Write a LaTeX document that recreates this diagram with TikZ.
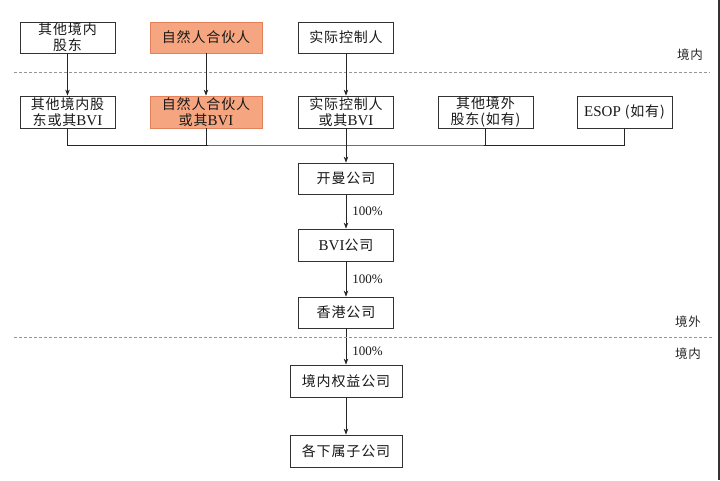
\documentclass[tikz,border=0pt]{standalone}
\usepackage{fontspec}
\setmainfont{Liberation Serif}
\newfontfamily\cjk[LetterSpace=6]{Noto Sans CJK SC}
\usetikzlibrary{arrows.meta}
\newcommand\latn[1]{{\rmfamily\fontsize{15}{16}\selectfont #1}}
\definecolor{orangefill}{RGB}{245,166,128}
\definecolor{orangeline}{RGB}{226,130,90}
\definecolor{boxline}{RGB}{50,50,50}
\definecolor{dashgray}{RGB}{150,150,150}
\tikzset{
  box/.style={draw=boxline, line width=0.8pt, minimum width=95pt, minimum height=31pt,
    inner sep=0pt, align=center, text=black!90, font=\fontsize{14}{16}\selectfont\cjk},
  widebox/.style={box, minimum width=112pt},
  hot/.style={fill=orangefill, draw=orangeline},
  conn/.style={line width=0.7pt, draw=black!85},
  arr/.style={conn, -{Stealth[length=6pt,width=4.5pt]}},
  sep/.style={dashgray, line width=0.6pt, dash pattern=on 3pt off 2pt},
  zone/.style={font=\fontsize{12.5}{14}\selectfont\cjk, text=black!85, inner sep=0pt},
  pct/.style={font=\fontsize{13}{14}\selectfont\rmfamily, text=black!90, inner sep=0pt, anchor=west}
}
\begin{document}
\begin{tikzpicture}[x=1pt,y=-1pt]
\useasboundingbox (0,0) rectangle (720,480);
\fill[white] (0,0) rectangle (720,480);
% row 1
\node[box] (A1) at (67.5,37.5) {其他境内\\股东};
\node[widebox,hot] (A2) at (206,37.5) {自然人合伙人};
\node[box] (A3) at (346,37.5) {实际控制人};
% separators and zone labels
\coordinate (s1l) at (14,72); \coordinate (s1r) at (710,72);
\draw[sep] (s1l) -- (s1r);
\node[zone] (z1) at (690,55) {境内};
% row 2
\node[box, minimum height=32pt] (B1) at (67.5,112) {其他境内股\\东或其\latn{BVI}};
\node[widebox,hot, minimum height=32pt] (B2) at (206,112) {自然人合伙人\\或其\latn{BVI}};
\node[box, minimum height=32pt] (B3) at (346,112) {实际控制人\\或其\latn{BVI}};
\node[box, minimum height=32pt] (B4) at (485.5,112) {其他境外\\股东(如有)};
\node[box, minimum height=32pt] (B5) at (624.5,112) {\latn{ESOP} (如有)};
% arrows row1 -> row2
\draw[arr] (A1) -- (B1);
\draw[arr] (A2) -- (B2);
\draw[arr] (A3) -- (B3);
% bus
\coordinate (bus) at (346,145);
\draw[conn] (B1.south) |- (bus) -| (B5.south);
\draw[conn] (B2.south) -- (B2.south |- bus);
\draw[conn] (B4.south) -- (B4.south |- bus);
% chain
\node[box] (C1) at (346,178.5) {开曼公司};
\node[box, minimum height=32pt] (C2) at (346,245) {\latn{BVI}公司};
\node[box] (C3) at (346,312.5) {香港公司};
\node[widebox, minimum height=32pt] (D1) at (346,381) {境内权益公司};
\node[widebox, minimum height=32pt] (D2) at (346,451) {各下属子公司};
\draw[arr] (B3.south) -- (C1.north);
\draw[arr] (C1) -- node[pct, xshift=6pt] (p1) {100\%} (C2);
\draw[arr] (C2) -- node[pct, xshift=6pt] (p2) {100\%} (C3);
\draw[arr] (C3) -- node[pct, xshift=6pt, yshift=-5pt] (p3) {100\%} (D1);
\draw[arr] (D1) -- (D2);
% second separator
\coordinate (s2l) at (14,337); \coordinate (s2r) at (712,337);
\draw[sep] (s2l) -- (s2r);
\node[zone] (z2) at (688,322) {境外};
\node[zone] (z3) at (688,354) {境内};
% right edge line
\coordinate (e1) at (719,0); \coordinate (e2) at (719,480);
\draw[line width=1.2pt, black!80] (e1) -- (e2);
\end{tikzpicture}
\end{document}
